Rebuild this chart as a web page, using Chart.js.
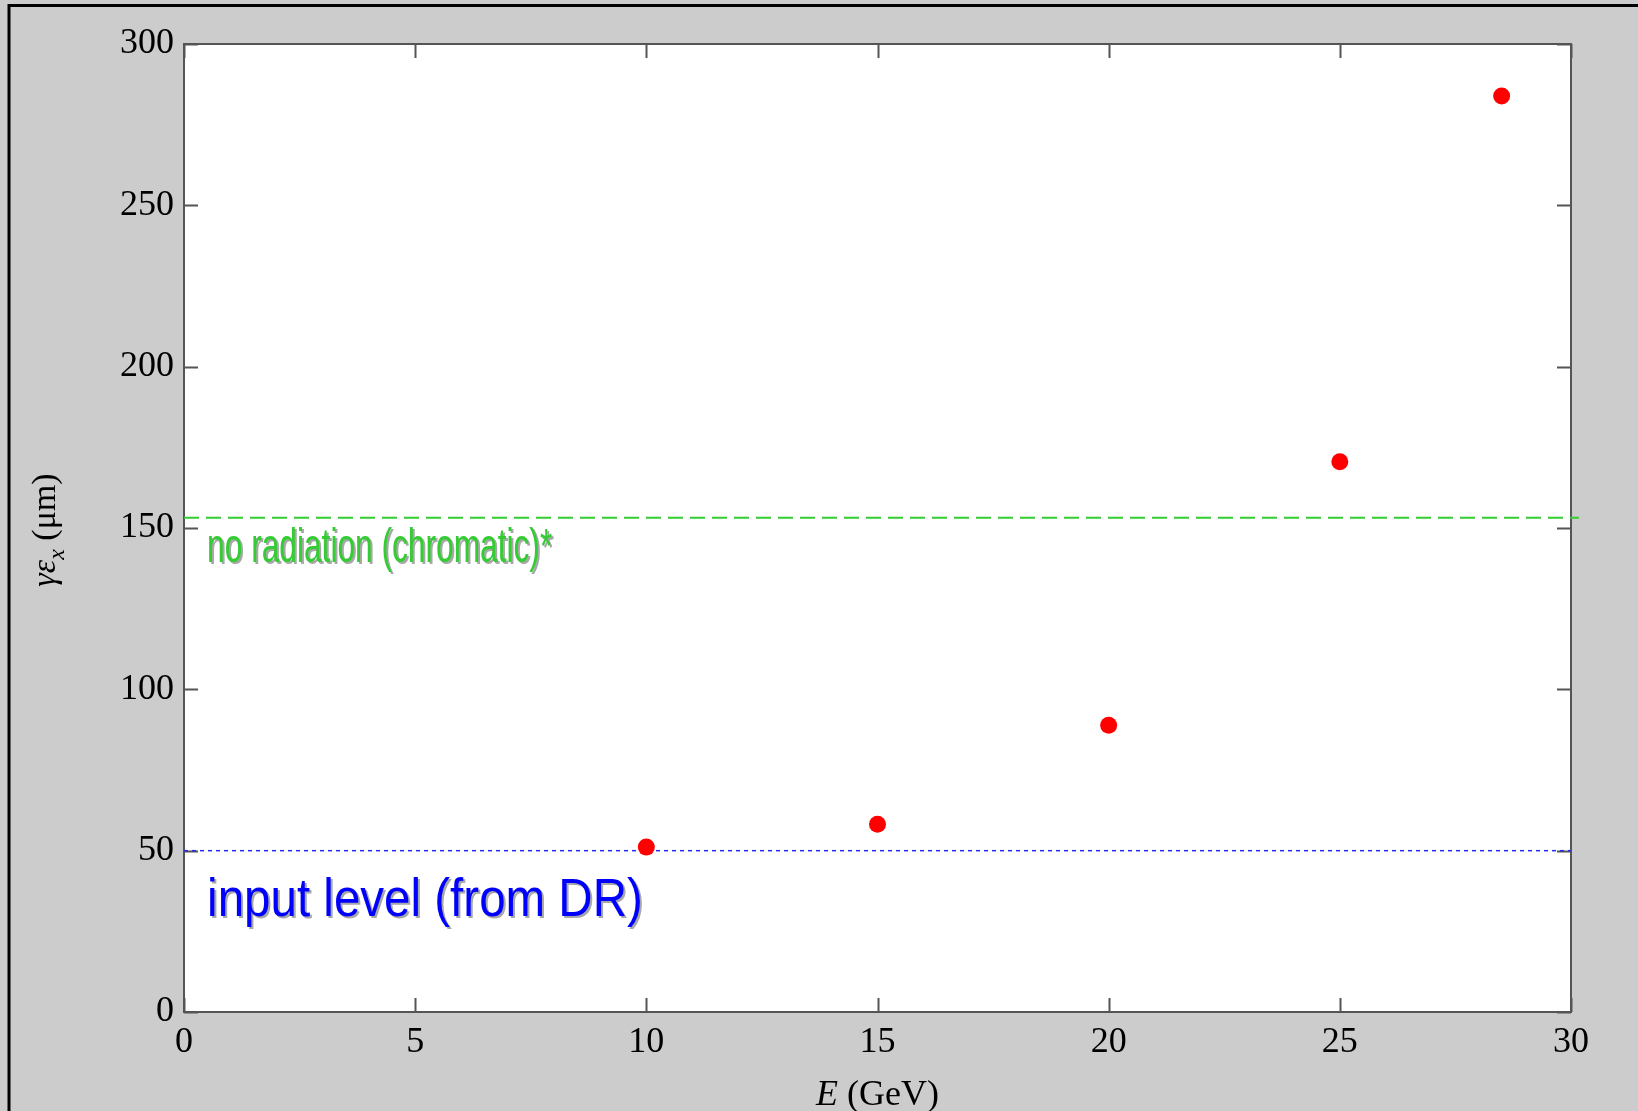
<!DOCTYPE html>
<html>
<head>
<meta charset="utf-8">
<script src="https://cdn.jsdelivr.net/npm/chart.js@4.4.0/dist/chart.umd.min.js"></script>
<style>
html, body { margin: 0; padding: 0; background: #cccccc; overflow: hidden; }
#wrap { position: relative; width: 1638px; height: 1111px; }
</style>
</head>
<body>
<div id="wrap"><canvas id="emit-chart" width="1638" height="1111"></canvas></div>
<script>
// beam energy (GeV) and normalised horizontal emittance (um)
var energies = [10, 15, 20, 25, 28.5];
var emittances = [51.1, 58.2, 88.9, 170.5, 283.9];

// reference levels
var chromaticLevel = 153.2;
var chromaticSpan = [0, 30.17];
var inputLevel = 50;
var inputSpan = [0, 30];

var xTicks = [0, 5, 10, 15, 20, 25, 30];
var yTicks = [0, 50, 100, 150, 200, 250, 300];

var serif = '"Liberation Serif", "Times New Roman", serif';
var sans = '"Liberation Sans", Arial, sans-serif';

function toPoints(xs, ys) {
	var pts = [];
	for (var i = 0; i < xs.length; i++) {
		pts.push({x: xs[i], y: ys[i]});
	}
	return pts;
}

function levelLine(span, level) {
	return [{x: span[0], y: level}, {x: span[1], y: level}];
}

function shadowText(ctx, text, x, y, font, color, sx) {
	ctx.save();
	ctx.font = font;
	ctx.textAlign = 'left';
	ctx.textBaseline = 'alphabetic';
	ctx.translate(x, y);
	ctx.scale(sx, 1);
	ctx.fillStyle = '#a8a8a8';
	ctx.fillText(text, 2 / sx, 2);
	ctx.fillStyle = color;
	ctx.fillText(text, 0, 0);
	ctx.restore();
}

var framePlugin = {
	id: 'frame',
	beforeDraw: function (chart) {
		var ctx = chart.ctx;
		var a = chart.chartArea;
		ctx.save();
		ctx.fillStyle = '#cccccc';
		ctx.fillRect(0, 0, chart.width, chart.height);
		ctx.strokeStyle = '#000000';
		ctx.lineWidth = 3;
		ctx.strokeRect(9, 5.5, chart.width + 20, chart.height + 20);
		ctx.fillStyle = '#ffffff';
		ctx.fillRect(a.left, a.top, a.right - a.left, a.bottom - a.top);
		ctx.restore();
	},
	beforeDatasetsDraw: function (chart) {
		var ctx = chart.ctx;
		var a = chart.chartArea;
		var xs = chart.scales.x;
		var ys = chart.scales.y;
		var tl = 14;
		ctx.save();
		ctx.strokeStyle = '#555555';
		ctx.lineWidth = 2;
		ctx.strokeRect(a.left, a.top, a.right - a.left, a.bottom - a.top);
		ctx.beginPath();
		xTicks.forEach(function (v) {
			var px = Math.round(xs.getPixelForValue(v)) + 0.5;
			ctx.moveTo(px, a.bottom); ctx.lineTo(px, a.bottom - tl);
			ctx.moveTo(px, a.top); ctx.lineTo(px, a.top + tl);
		});
		yTicks.forEach(function (v) {
			var py = Math.round(ys.getPixelForValue(v)) + 0.5;
			ctx.moveTo(a.left, py); ctx.lineTo(a.left + tl, py);
			ctx.moveTo(a.right, py); ctx.lineTo(a.right - tl, py);
		});
		ctx.stroke();
		ctx.restore();
	},
	afterDraw: function (chart) {
		var ctx = chart.ctx;
		var a = chart.chartArea;
		var xs = chart.scales.x;
		var ys = chart.scales.y;

		// level captions
		shadowText(ctx, 'no radiation (chromatic)*', xs.getPixelForValue(0.5), ys.getPixelForValue(chromaticLevel) + 44, '48px ' + sans, '#33cc33', 0.66);
		shadowText(ctx, 'input level (from DR)', xs.getPixelForValue(0.5), ys.getPixelForValue(inputLevel) + 65, '54px ' + sans, '#0000ff', 0.88);

		ctx.save();
		ctx.fillStyle = '#000000';
		ctx.textBaseline = 'alphabetic';

		// x title: E (GeV)
		var fItal = 'italic 36px ' + serif;
		var fReg = '36px ' + serif;
		ctx.font = fItal;
		var w1 = ctx.measureText('E').width;
		ctx.font = fReg;
		var w2 = ctx.measureText(' (GeV)').width;
		var cx = (a.left + a.right) / 2;
		var x0 = cx - (w1 + w2) / 2;
		ctx.font = fItal;
		ctx.fillText('E', x0, 1105);
		ctx.font = fReg;
		ctx.fillText(' (GeV)', x0 + w1, 1105);

		// y title: gamma epsilon_x (um)
		ctx.translate(55, (a.top + a.bottom) / 2 + 2);
		ctx.rotate(-Math.PI / 2);
		var yI = 'italic 34px ' + serif;
		var yS = 'italic 24px ' + serif;
		var yR = '34px ' + serif;
		ctx.font = yI;
		var g = ctx.measureText('\u03b3\u03b5').width;
		ctx.font = yS;
		var s = ctx.measureText('x').width;
		ctx.font = yR;
		var r = ctx.measureText(' (\u03bcm)').width;
		var sx0 = -(g + s + r) / 2;
		ctx.font = yI;
		ctx.fillText('\u03b3\u03b5', sx0, 0);
		ctx.font = yS;
		ctx.fillText('x', sx0 + g, 9);
		ctx.font = yR;
		ctx.fillText(' (\u03bcm)', sx0 + g + s, 0);
		ctx.restore();
	}
};

var ctx = document.getElementById('emit-chart');
var emitChart = new Chart(ctx, {
	type: 'scatter',
	data: {
		datasets: [{
			label: 'emittance',
			data: toPoints(energies, emittances),
			backgroundColor: '#ff0000',
			borderWidth: 0,
			pointRadius: 8.5,
			pointHoverRadius: 8.5,
			showLine: false
		}, {
			label: 'no radiation (chromatic)*',
			data: levelLine(chromaticSpan, chromaticLevel),
			showLine: true,
			borderColor: '#33cc33',
			borderWidth: 2,
			borderDash: [15, 7],
			pointRadius: 0,
			clip: false
		}, {
			label: 'input level (from DR)',
			data: levelLine(inputSpan, inputLevel),
			showLine: true,
			borderColor: '#2a2aee',
			borderWidth: 1.5,
			borderDash: [4, 4],
			pointRadius: 0
		}]
	},
	options: {
		responsive: false,
		animation: false,
		devicePixelRatio: 1,
		layout: {padding: {left: 0, top: 44, right: 67, bottom: 0}},
		plugins: {legend: {display: false}, tooltip: {enabled: false}},
		scales: {
			x: {
				type: 'linear',
				position: 'bottom',
				min: 0,
				max: 30,
				afterBuildTicks: function (scale) {
					scale.ticks = xTicks.map(function (v) { return {value: v}; });
				},
				afterFit: function (scale) { scale.height = 99; },
				grid: {display: false, drawTicks: false},
				border: {display: false},
				ticks: {color: '#000000', padding: 9, maxRotation: 0, font: {family: serif, size: 36}}
			},
			y: {
				type: 'linear',
				position: 'left',
				min: 0,
				max: 300,
				afterBuildTicks: function (scale) {
					scale.ticks = yTicks.map(function (v) { return {value: v}; });
				},
				afterFit: function (scale) { scale.width = 184; },
				grid: {display: false, drawTicks: false},
				border: {display: false},
				ticks: {color: '#000000', padding: 10, font: {family: serif, size: 36}}
			}
		}
	},
	plugins: [framePlugin]
});
</script>
</body>
</html>
